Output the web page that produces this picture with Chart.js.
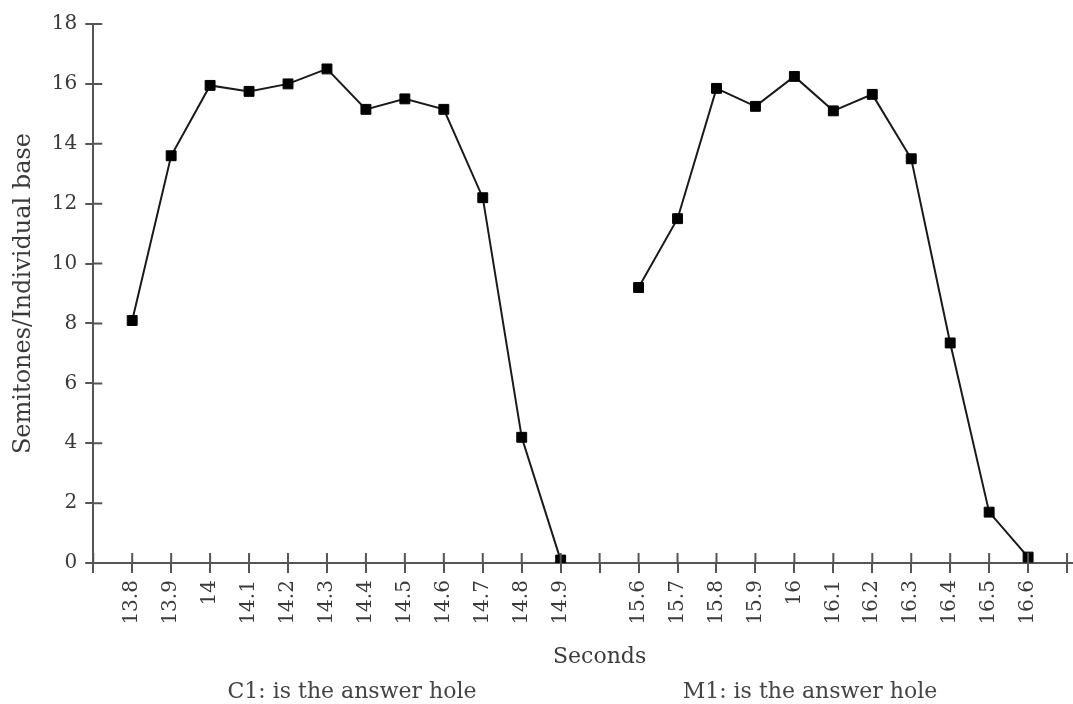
<!DOCTYPE html>
<html>
<head>
<meta charset="utf-8">
<script src="https://cdn.jsdelivr.net/npm/chart.js@4/dist/chart.umd.min.js"></script>
<style>
  html, body { margin: 0; padding: 0; background: #fff; overflow: hidden; }
  #wrap { position: relative; width: 1073px; height: 704px; overflow: hidden; }
  .note { position: absolute; top: 678px; font: 22px "DejaVu Serif", serif; color: #444; white-space: nowrap; transform: translateX(-50%); }
</style>
</head>
<body>
<div id="wrap">
  <canvas id="chart" width="1137" height="704"></canvas>
  <div class="note" style="left:352px">C1: is the answer hole</div>
  <div class="note" style="left:810px">M1: is the answer hole</div>
</div>
<script>
const c1Seconds = ["13.8", "13.9", "14", "14.1", "14.2", "14.3", "14.4", "14.5", "14.6", "14.7", "14.8", "14.9"]
const m1Seconds = ["15.6", "15.7", "15.8", "15.9", "16", "16.1", "16.2", "16.3", "16.4", "16.5", "16.6"]
const c1Semitones = [8.1, 13.6, 15.95, 15.75, 16.0, 16.5, 15.15, 15.5, 15.15, 12.2, 4.2, 0.1]
const m1Semitones = [9.2, 11.5, 15.85, 15.25, 16.25, 15.1, 15.65, 13.5, 7.35, 1.7, 0.2]

// empty categories: one at the y axis, one between the two runs, two past the right edge
const labels = ["", ...c1Seconds, "", ...m1Seconds, "", ""]
const gap = (n) => Array(n).fill(null)
const c1Data = [null, ...c1Semitones, ...gap(labels.length - 1 - c1Semitones.length)]
const m1Data = [...gap(c1Seconds.length + 2), ...m1Semitones, null, null]

const axisColor = "#555"
const textColor = "#3a3a3a"
const serif = "'DejaVu Serif', serif"

// tick marks cross the axis line: draw the part that falls inside the plot
const innerTicks = {
  id: "innerTicks",
  afterDraw(chart) {
    const { ctx, chartArea } = chart
    const x = chart.scales.x
    const y = chart.scales.y
    ctx.save()
    ctx.strokeStyle = axisColor
    ctx.lineWidth = 2
    ctx.beginPath()
    x.ticks.forEach((t, i) => {
      const px = x.getPixelForTick(i)
      ctx.moveTo(px, chartArea.bottom)
      ctx.lineTo(px, chartArea.bottom - 10)
    })
    y.ticks.forEach((t, i) => {
      const py = y.getPixelForTick(i)
      ctx.moveTo(chartArea.left, py)
      ctx.lineTo(chartArea.left + 9, py)
    })
    ctx.stroke()
    ctx.restore()
  },
}

const lineStyle = {
  borderColor: "#1a1a1a",
  borderWidth: 2,
  pointStyle: "rect",
  pointRadius: 7,
  pointBackgroundColor: "#000",
  pointBorderColor: "#000",
  pointBorderWidth: 1,
  spanGaps: false,
  fill: false,
  tension: 0,
}

new Chart(document.getElementById("chart"), {
  type: "line",
  data: {
    labels: labels,
    datasets: [
      { label: "C1", data: c1Data, ...lineStyle },
      { label: "M1", data: m1Data, ...lineStyle },
    ],
  },
  options: {
    responsive: false,
    animation: false,
    layout: { padding: { left: 9, right: 0, top: 24, bottom: 34 } },
    plugins: { legend: { display: false }, tooltip: { enabled: false } },
    scales: {
      x: {
        offset: false,
        grid: { drawOnChartArea: false, drawTicks: true, tickLength: 10, color: axisColor, lineWidth: 2 },
        border: { display: true, color: axisColor, width: 2 },
        ticks: {
          autoSkip: false,
          maxRotation: 90,
          minRotation: 90,
          padding: 7,
          color: textColor,
          font: { family: serif, size: 20 },
        },
        title: {
          display: true,
          text: "Seconds",
          color: textColor,
          font: { family: serif, size: 22 },
          padding: { top: 12, bottom: 0 },
        },
      },
      y: {
        min: 0,
        max: 18,
        grid: { drawOnChartArea: false, drawTicks: true, tickLength: 8, color: axisColor, lineWidth: 2 },
        border: { display: true, color: axisColor, width: 2 },
        ticks: {
          stepSize: 2,
          padding: 8,
          color: textColor,
          font: { family: serif, size: 20 },
        },
        title: {
          display: true,
          text: "Semitones/Individual base",
          color: textColor,
          font: { family: serif, size: 24 },
          padding: { top: 0, bottom: 6 },
        },
      },
    },
  },
  plugins: [innerTicks],
})
</script>
</body>
</html>
